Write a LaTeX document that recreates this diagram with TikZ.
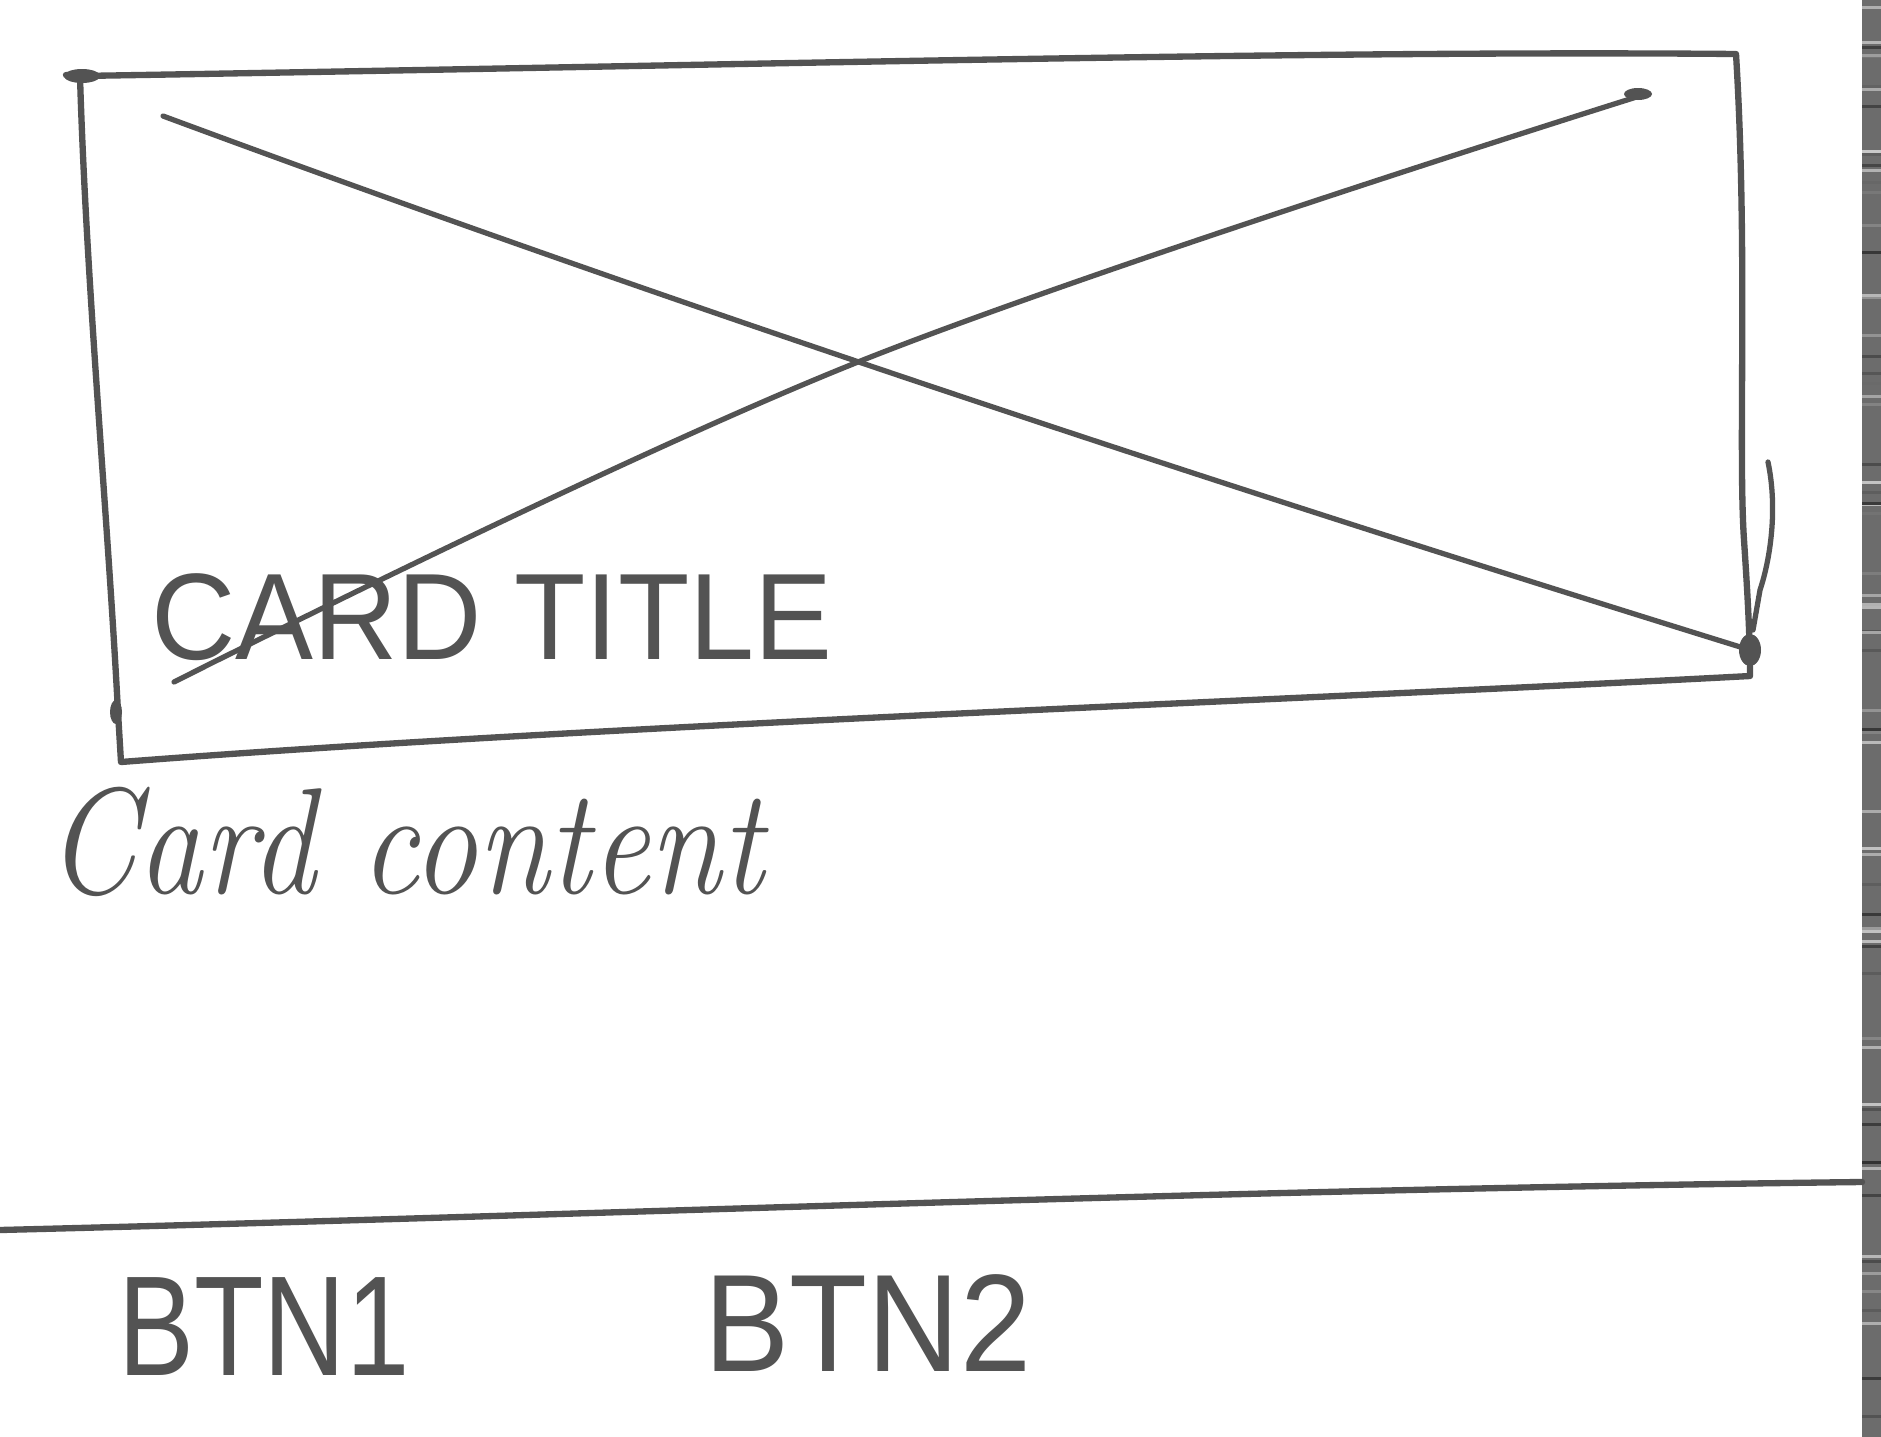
\documentclass[tikz,border=0pt]{standalone}
\usepackage{fontspec}
\newfontfamily\capsfont{Liberation Sans}
\newfontfamily\cursivefont{Latin Modern Roman}
\definecolor{ink}{HTML}{535353}
\definecolor{strip}{HTML}{6C6C6C}
\tikzset{
  pen/.style={draw=ink, line width=3.6pt, line cap=round, line join=round},
  crosspen/.style={draw=ink, line width=3pt, line cap=round, line join=round},
  caps/.style={text=ink, inner sep=0pt, font=\capsfont},
  hand/.style={text=ink, inner sep=0pt, font=\cursivefont\itshape},
}
\begin{document}
\begin{tikzpicture}[x=0.02cm, y=-0.02cm]
\useasboundingbox (0,0) rectangle (1881,1437);
\fill[white] (0,0) rectangle (1881,1437);
% scanner strip at right edge
\fill[strip] (1862,0) rectangle (1881,1437);
\pgfmathsetseed{7}
\foreach \i in {1,...,70}{
  \pgfmathsetmacro{\yy}{rnd*1437}
  \pgfmathsetmacro{\gg}{rnd*60+20}
  \fill[black!\gg] (1862,\yy) rectangle (1881,\yy+3);
}
% card box corners
\coordinate (tl) at (80,76);
\coordinate (tr) at (1736,54);
\coordinate (br) at (1750,676);
\coordinate (bl) at (121,762);
\draw[pen] (66,75) -- (tl) .. controls (700,66) and (1300,50) .. (tr)
  .. controls (1748,250) and (1738,450) .. (1744,540)
  .. controls (1748,600) and (1750,640) .. (br)
  .. controls (1300,700) and (600,725) .. (bl)
  -- (118,712)
  .. controls (108,520) and (86,280) .. (tl);
% ink blobs
\fill[ink] (82,76) ellipse [x radius=18, y radius=7];
\fill[ink] (116,712) ellipse [x radius=6, y radius=12];
\fill[ink] (1750,650) ellipse [x radius=11, y radius=16];
\fill[ink] (1638,94) ellipse [x radius=14, y radius=6];
% extra stroke near bottom right
\coordinate (xs1) at (1768,462);
\coordinate (xs2) at (1753,630);
\draw[crosspen] (xs1) .. controls (1778,510) and (1770,560) .. (1760,590) -- (xs2);
% the cross
\coordinate (c1a) at (163,116);
\coordinate (c1b) at (1750,650);
\coordinate (c2a) at (1646,94);
\coordinate (c2b) at (174,682);
\draw[crosspen] (c1a) .. controls (700,315) and (1250,495) .. (c1b);
\draw[crosspen] plot[smooth, tension=0.6] coordinates {(c2a) (858,362) (c2b)};
% texts
\node[caps, font=\capsfont\fontsize{70}{74}\selectfont] (title) at (492,617) {\scalebox{0.95}[1]{CARD TITLE}};
\node[hand, font=\cursivefont\itshape\fontsize{86}{96}\selectfont] (content) at (405,842) {\scalebox{0.86}[1]{Card content}};
% separator line
\coordinate (sepL) at (0,1230);
\coordinate (sepR) at (1862,1182);
\draw[pen] (sepL) .. controls (600,1215) and (1200,1190) .. (sepR);
% buttons
\node[caps, font=\capsfont\fontsize{81}{86}\selectfont] (btn1) at (264,1327) {\scalebox{0.8}[1]{BTN1}};
\node[caps, font=\capsfont\fontsize{79}{84}\selectfont] (btn2) at (868,1323) {\scalebox{0.92}[1]{BTN2}};
\end{tikzpicture}
\end{document}
